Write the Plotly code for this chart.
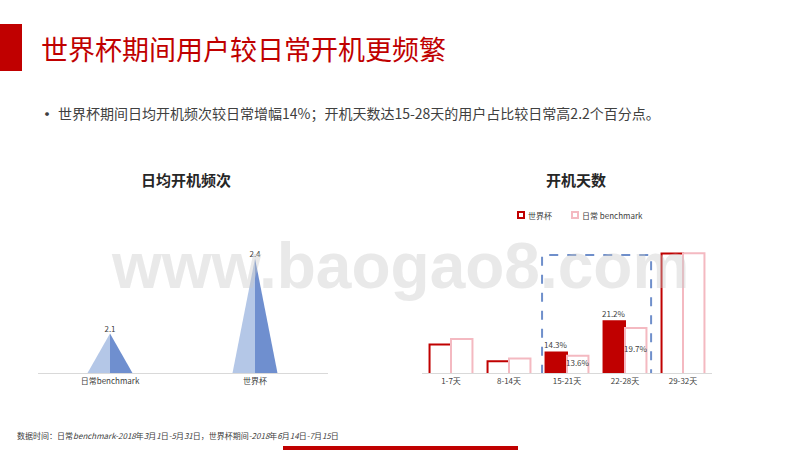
import plotly.graph_objects as go

# ---------------- data ----------------
freq_categories = ["日常benchmark", "世界杯"]
freq_values = [2.1, 2.4]
freq_labels = ["2.1", "2.4"]

day_categories = ["1-7天", "8-14天", "15-21天", "22-28天", "29-32天"]
wc_share = [16.1, 12.4, 14.3, 21.2, 36.1]          # 世界杯
bm_share = [17.3, 13.0, 13.6, 19.7, 36.2]          # 日常 benchmark
wc_labels = ["", "", "14.3%", "21.2%", ""]
bm_labels = ["", "", "13.6%", "19.7%", ""]
highlight = [False, False, True, True, False]
series_names = ["世界杯", "日常 benchmark"]

title_text = "世界杯期间用户较日常开机更频繁"
bullet_text = "世界杯期间日均开机频次较日常增幅14%；开机天数达15-28天的用户占比较日常高2.2个百分点。"
note_text = ("数据时间：日常<i>benchmark-2018</i>年<i>3</i>月<i>1</i>日<i>-5</i>月<i>31</i>日，"
             "世界杯期间<i>-2018</i>年<i>6</i>月<i>14</i>日<i>-7</i>月<i>15</i>日")

# ---------------- styles ----------------
W, H = 800, 450
FONT = "Noto Sans CJK SC, Noto Sans, sans-serif"
RED = "#c00000"
PINK = "#f4b9c1"
LIGHT_BLUE = "#b4c7e7"
DARK_BLUE = "#6f8fcf"
GRID = "#d9d9d9"
TXT = "#404040"


def px_x(p):
    return p / W


def px_y(p):
    return 1 - p / H


fig = go.Figure()

# ---- left chart: pyramids ----
half_w = 0.155
freq_min = 1.9424
for i, v in enumerate(freq_values):
    fig.add_trace(go.Scatter(
        x=[i - half_w, i, i, i - half_w], y=[freq_min, v, freq_min, freq_min],
        fill="toself", fillcolor=LIGHT_BLUE, line=dict(width=0), mode="lines",
        hoverinfo="skip", showlegend=False, xaxis="x", yaxis="y"))
    fig.add_trace(go.Scatter(
        x=[i, i + half_w, i, i], y=[v, freq_min, freq_min, v],
        fill="toself", fillcolor=DARK_BLUE, line=dict(width=0), mode="lines",
        hoverinfo="skip", showlegend=False, xaxis="x", yaxis="y"))
fig.add_trace(go.Scatter(
    x=list(range(len(freq_values))), y=freq_values, mode="text",
    text=freq_labels, textposition="top center",
    textfont=dict(size=8, color=TXT, family=FONT),
    showlegend=False, hoverinfo="skip", xaxis="x", yaxis="y", cliponaxis=False))

# ---- right chart: bars ----
x_idx = list(range(len(day_categories)))
fig.add_trace(go.Bar(
    x=x_idx, y=wc_share, name=series_names[0],
    marker=dict(color=[RED if h else "white" for h in highlight],
                line=dict(color=RED, width=2)),
    showlegend=False, xaxis="x2", yaxis="y2", hoverinfo="skip"))
fig.add_trace(go.Bar(
    x=x_idx, y=bm_share, name=series_names[1],
    marker=dict(color="white", line=dict(color=PINK, width=2)),
    showlegend=False, xaxis="x2", yaxis="y2", hoverinfo="skip"))

bargap = 0.26
bar_w = (1 - bargap) / 2
share_min = 9.8
px_per_unit = 4.54
share_max = share_min + 173 / px_per_unit

for i in x_idx:
    if wc_labels[i]:
        fig.add_annotation(x=i - bar_w / 2, y=wc_share[i], text=wc_labels[i],
                           xref="x2", yref="y2", showarrow=False, yshift=8,
                           font=dict(size=8, color=TXT, family=FONT))
    if bm_labels[i]:
        fig.add_annotation(x=i + bar_w / 2, y=(share_min + bm_share[i]) / 2 + 0.5,
                           text=bm_labels[i], xref="x2", yref="y2", showarrow=False,
                           font=dict(size=8, color=TXT, family=FONT))

# highlight dashed box around 15-28天
fig.add_shape(type="rect", xref="x2", yref="y2",
              x0=2 - 0.5 + 0.07, x1=3 + 0.5 - 0.05,
              y0=share_min - 0.9, y1=share_min + 118 / px_per_unit,
              line=dict(color="#6f8fcb", width=2, dash="dash"), layer="above")

# ---- manual legend (small squares) ----
legend_items = [(521, RED, series_names[0]), (575, PINK, series_names[1])]
for lx, col, name in legend_items:
    fig.add_shape(type="rect", xref="paper", yref="paper",
                  x0=px_x(lx - 3), x1=px_x(lx + 3), y0=px_y(218), y1=px_y(212),
                  fillcolor="white", line=dict(color=col, width=2))
    fig.add_annotation(x=px_x(lx + 5), y=px_y(215), xref="paper", yref="paper",
                       xanchor="left", yanchor="middle", showarrow=False,
                       text=name, font=dict(size=8, color=TXT, family=FONT))

# ---- decorations ----
fig.add_shape(type="rect", xref="paper", yref="paper",
              x0=px_x(0), x1=px_x(22), y0=px_y(71), y1=px_y(24),
              fillcolor=RED, line=dict(width=0))
fig.add_shape(type="rect", xref="paper", yref="paper",
              x0=px_x(283), x1=px_x(518), y0=px_y(450), y1=px_y(446),
              fillcolor=RED, line=dict(width=0))

fig.add_annotation(x=px_x(39), y=px_y(48), xref="paper", yref="paper",
                   xanchor="left", yanchor="middle", showarrow=False,
                   text=title_text, font=dict(size=27, color=RED, family=FONT))
fig.add_annotation(x=px_x(36), y=px_y(113), xref="paper", yref="paper",
                   xanchor="left", yanchor="middle", showarrow=False,
                   text="•", font=dict(size=18, color=TXT, family=FONT))
fig.add_annotation(x=px_x(56), y=px_y(113), xref="paper", yref="paper",
                   xanchor="left", yanchor="middle", showarrow=False,
                   text=bullet_text, font=dict(size=14, color=TXT, family=FONT))
fig.add_annotation(x=px_x(186), y=px_y(179), xref="paper", yref="paper",
                   xanchor="center", yanchor="middle", showarrow=False,
                   text="<b>日均开机频次</b>", font=dict(size=15, color="#262626", family=FONT))
fig.add_annotation(x=px_x(576), y=px_y(179), xref="paper", yref="paper",
                   xanchor="center", yanchor="middle", showarrow=False,
                   text="<b>开机天数</b>", font=dict(size=15, color="#262626", family=FONT))
fig.add_annotation(x=px_x(15), y=px_y(435), xref="paper", yref="paper",
                   xanchor="left", yanchor="middle", showarrow=False,
                   text=note_text, font=dict(size=8, color=TXT, family=FONT))
# watermark
fig.add_annotation(x=px_x(400), y=px_y(266), xref="paper", yref="paper",
                   xanchor="center", yanchor="middle", showarrow=False,
                   text="<b>www.baogao8.com</b>",
                   font=dict(size=64, color="rgba(200,200,200,0.4)",
                             family="Liberation Sans, Arial, sans-serif"))

axis_font = dict(size=8, color=TXT, family=FONT)
fig.update_layout(
    width=W, height=H, margin=dict(l=0, r=0, t=0, b=0),
    paper_bgcolor="white", plot_bgcolor="rgba(0,0,0,0)",
    barmode="group", bargap=bargap, bargroupgap=0,
    font=dict(family=FONT), showlegend=False,
    xaxis=dict(domain=[px_x(37.5), px_x(327.5)], range=[-0.5, 1.5],
               tickvals=[0, 1], ticktext=freq_categories, tickfont=axis_font,
               showline=True, linecolor=GRID, linewidth=1, showgrid=False,
               zeroline=False, ticks=""),
    yaxis=dict(domain=[px_y(373), px_y(200)],
               range=[freq_min, freq_min + 173 / 250],
               visible=False, showgrid=False, zeroline=False),
    xaxis2=dict(domain=[px_x(422), px_x(712)], range=[-0.5, 4.5],
                tickvals=x_idx, ticktext=day_categories, tickfont=axis_font,
                showline=True, linecolor=GRID, linewidth=1, showgrid=False,
                zeroline=False, ticks=""),
    yaxis2=dict(domain=[px_y(373), px_y(200)], range=[share_min, share_max],
                visible=False, showgrid=False, zeroline=False),
)

fig.write_html("out.html", config={"displayModeBar": False},
               post_script="document.body.style.margin='0';document.body.style.overflow='hidden';")
